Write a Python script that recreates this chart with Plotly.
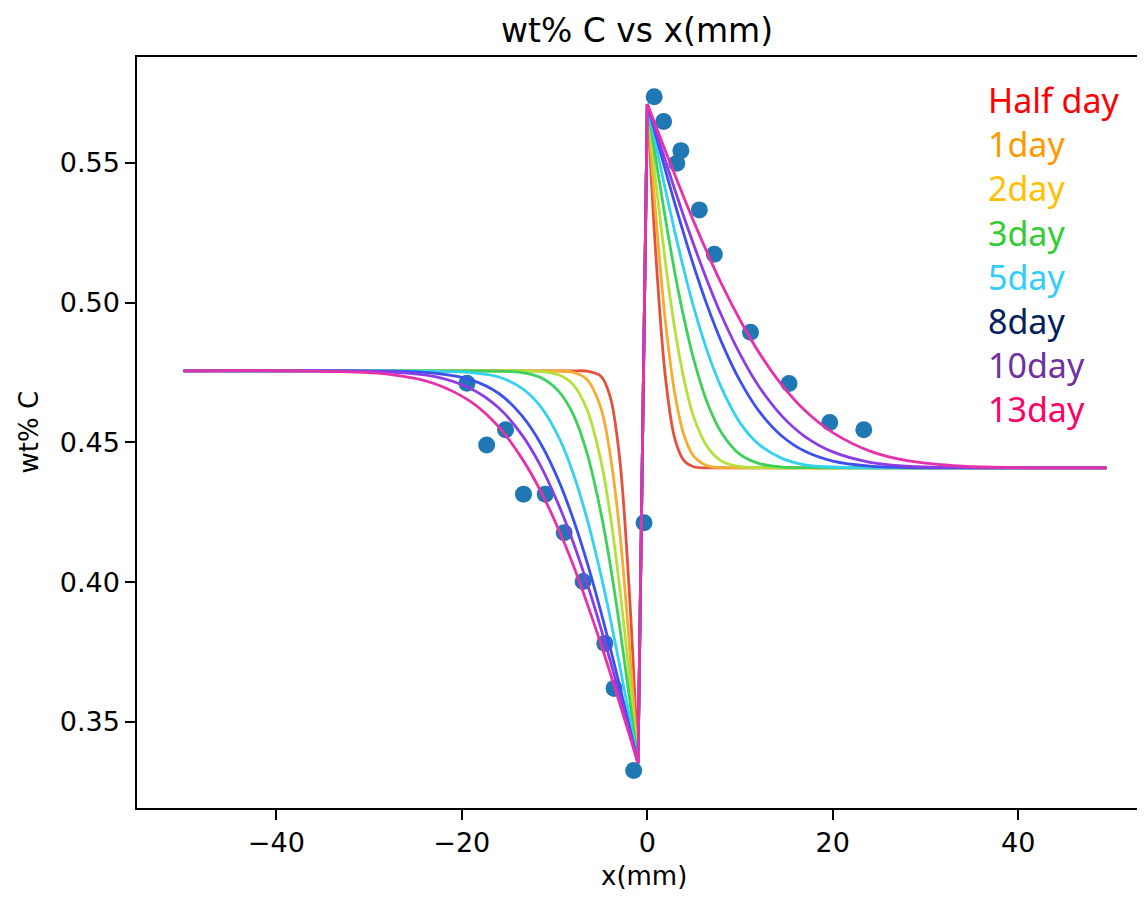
import plotly.graph_objects as go

# measured points (blue dots)
pts_x = [0.74, 1.76, 3.18, 3.62, 5.61, 7.23, 11.13, 15.28, 19.67, 23.34,
         -0.35, -1.47, -3.58, -4.58, -6.92, -8.96, -11.0, -13.35, -15.28, -17.32, -19.44]
pts_y = [0.5737, 0.5648, 0.5499, 0.5544, 0.5332, 0.5173, 0.4894, 0.4711, 0.4571, 0.4545,
         0.4213, 0.3326, 0.3620, 0.3781, 0.4002, 0.4177, 0.4315, 0.4315, 0.4545, 0.4491, 0.4712]

labels = ['Half day', '1day', '2day', '3day', '5day', '8day', '10day', '13day']
label_colors = ['#ff0000', '#ff9900', '#ffc000', '#33cc33', '#33ccff', '#002060', '#7030a0', '#ff0066']
line_colors = ['#e4503c', '#f5ac30', '#b4e03c', '#3cd25a', '#32d2f0', '#3c50f0', '#8c3ce6', '#e632aa']

# left side of the joint
x_left = [-50, -36, -28, -23, -19, -16, -13.5, -11.5, -9.5, -8, -6.5, -5, -4, -3, -2, -1]
y_left_05 = [0.4756, 0.4756, 0.4756, 0.4756, 0.4756, 0.4756, 0.4756, 0.4756, 0.4756, 0.4756, 0.4755, 0.4737, 0.4663, 0.4449, 0.4000, 0.3352]
y_left_1 = [0.4756, 0.4756, 0.4756, 0.4756, 0.4756, 0.4756, 0.4756, 0.4756, 0.4755, 0.4751, 0.4725, 0.4622, 0.4456, 0.4189, 0.3805, 0.3352]
y_left_2 = [0.4756, 0.4756, 0.4756, 0.4756, 0.4756, 0.4756, 0.4756, 0.4754, 0.4741, 0.4707, 0.4618, 0.4435, 0.4241, 0.3987, 0.3685, 0.3352]
y_left_3 = [0.4756, 0.4756, 0.4756, 0.4756, 0.4756, 0.4755, 0.4750, 0.4732, 0.4681, 0.4601, 0.4462, 0.4248, 0.4063, 0.3846, 0.3605, 0.3352]
y_left_5 = [0.4756, 0.4756, 0.4756, 0.4755, 0.4750, 0.4734, 0.4693, 0.4628, 0.4515, 0.4390, 0.4227, 0.4026, 0.3872, 0.3706, 0.3531, 0.3352]
y_left_8 = [0.4756, 0.4756, 0.4755, 0.4748, 0.4724, 0.4675, 0.4595, 0.4496, 0.4359, 0.4227, 0.4072, 0.3894, 0.3766, 0.3632, 0.3493, 0.3352]
y_left_10 = [0.4756, 0.4756, 0.4752, 0.4736, 0.4692, 0.4623, 0.4526, 0.4416, 0.4272, 0.4144, 0.3997, 0.3835, 0.3719, 0.3599, 0.3476, 0.3352]
y_left_13 = [0.4756, 0.4755, 0.4744, 0.4711, 0.4645, 0.4555, 0.4442, 0.4326, 0.4184, 0.4062, 0.3925, 0.3779, 0.3675, 0.3569, 0.3461, 0.3352]

# right side of the joint
x_right = [0, 1, 2, 3, 4, 5, 6.5, 8, 10, 12, 14.5, 17, 20, 24, 28, 34, 40, 49.5]
y_right_05 = [0.5711, 0.5132, 0.4720, 0.4509, 0.4433, 0.4413, 0.4409, 0.4409, 0.4409, 0.4409, 0.4409, 0.4409, 0.4409, 0.4409, 0.4409, 0.4409, 0.4409, 0.4409]
y_right_1 = [0.5711, 0.5279, 0.4919, 0.4668, 0.4522, 0.4451, 0.4416, 0.4410, 0.4409, 0.4409, 0.4409, 0.4409, 0.4409, 0.4409, 0.4409, 0.4409, 0.4409, 0.4409]
y_right_2 = [0.5711, 0.5409, 0.5132, 0.4899, 0.4720, 0.4591, 0.4483, 0.4433, 0.4413, 0.4410, 0.4409, 0.4409, 0.4409, 0.4409, 0.4409, 0.4409, 0.4409, 0.4409]
y_right_3 = [0.5711, 0.5497, 0.5291, 0.5102, 0.4938, 0.4798, 0.4639, 0.4535, 0.4457, 0.4425, 0.4412, 0.4410, 0.4409, 0.4409, 0.4409, 0.4409, 0.4409, 0.4409]
y_right_5 = [0.5711, 0.5552, 0.5397, 0.5249, 0.5110, 0.4984, 0.4823, 0.4695, 0.4570, 0.4494, 0.4443, 0.4420, 0.4412, 0.4409, 0.4409, 0.4409, 0.4409, 0.4409]
y_right_8 = [0.5711, 0.5589, 0.5468, 0.5351, 0.5239, 0.5132, 0.4986, 0.4859, 0.4720, 0.4614, 0.4523, 0.4468, 0.4433, 0.4415, 0.4410, 0.4409, 0.4409, 0.4409]
y_right_10 = [0.5711, 0.5606, 0.5503, 0.5401, 0.5302, 0.5208, 0.5075, 0.4954, 0.4816, 0.4702, 0.4595, 0.4521, 0.4466, 0.4429, 0.4415, 0.4410, 0.4409, 0.4409]
y_right_13 = [0.5711, 0.5625, 0.5539, 0.5455, 0.5372, 0.5291, 0.5176, 0.5067, 0.4938, 0.4824, 0.4706, 0.4614, 0.4535, 0.4469, 0.4435, 0.4415, 0.4410, 0.4409]

y_lefts = [y_left_05, y_left_1, y_left_2, y_left_3, y_left_5, y_left_8, y_left_10, y_left_13]
y_rights = [y_right_05, y_right_1, y_right_2, y_right_3, y_right_5, y_right_8, y_right_10, y_right_13]

# page has an 8px body margin; keep the figure inside the window
W, H = 1129, 886
L, T, B = 129, 49, 86
plot_w = W - L
plot_h = H - T - B

fig = go.Figure()

fig.add_trace(go.Scatter(x=pts_x, y=pts_y, mode='markers',
                         marker=dict(color='#1f77b4', size=17, line=dict(width=0)),
                         showlegend=False))

for i in range(len(labels)):
    c = line_colors[i]
    fig.add_trace(go.Scatter(x=x_left, y=y_lefts[i], mode='lines',
                             line=dict(color=c, width=2.8, shape='spline', smoothing=1.0),
                             showlegend=False))
    # jump at the joint
    fig.add_trace(go.Scatter(x=[x_left[-1], x_right[0]], y=[y_lefts[i][-1], y_rights[i][0]],
                             mode='lines', line=dict(color=c, width=2.8), showlegend=False))
    fig.add_trace(go.Scatter(x=x_right, y=y_rights[i], mode='lines',
                             line=dict(color=c, width=2.8, shape='spline', smoothing=1.0),
                             showlegend=False))


def px(xp):
    return (xp - 8 - L) / plot_w


def py(yp):
    return (H - B - (yp - 8)) / plot_h


# legend text written by hand in the original, one block of coloured lines
legend_txt = '<br>'.join('<span style="color:%s">%s</span>' % (label_colors[i], labels[i])
                         for i in range(len(labels)))
annots = [dict(text=legend_txt, x=px(986), y=py(75), xref='paper', yref='paper',
               xanchor='left', yanchor='top', align='left', showarrow=False,
               font=dict(family='Noto Sans', size=34, color='black'))]
annots.append(dict(text='x(mm)', x=px(644), y=py(876), xref='paper', yref='paper',
                   xanchor='center', yanchor='middle', showarrow=False,
                   font=dict(family='DejaVu Sans', size=26, color='black')))
annots.append(dict(text='wt% C', x=px(28), y=0.5, xref='paper', yref='paper',
                   xanchor='center', yanchor='middle', textangle=-90, showarrow=False,
                   font=dict(family='DejaVu Sans', size=26, color='black')))

fig.update_layout(
    width=W, height=H, autosize=False,
    margin=dict(l=L, r=0, t=T, b=B),
    paper_bgcolor='white', plot_bgcolor='white',
    title=dict(text='wt% C vs x(mm)', x=0.5, xref='paper', xanchor='center',
               y=1 - (30 - 8) / H, yanchor='middle',
               font=dict(family='DejaVu Sans', size=33, color='black')),
    annotations=annots,
    font=dict(family='DejaVu Sans', color='black'),
)
fig.update_xaxes(range=[-55.02, 52.8], tickvals=[-40, -20, 0, 20, 40],
                 showgrid=False, zeroline=False, showline=True, linecolor='black', linewidth=1.5,
                 mirror=True, ticks='outside', ticklen=10, tickwidth=1.5, tickcolor='black',
                 tickfont=dict(family='DejaVu Sans', size=27, color='black'))
fig.update_yaxes(range=[0.3192, 0.5879], tickvals=[0.35, 0.40, 0.45, 0.50, 0.55],
                 tickformat='.2f',
                 showgrid=False, zeroline=False, showline=True, linecolor='black', linewidth=1.5,
                 mirror=False, ticks='outside', ticklen=10, tickwidth=1.5, tickcolor='black',
                 ticklabelstandoff=0,
                 tickfont=dict(family='DejaVu Sans', size=27, color='black'))

fig.write_html('out.html')
